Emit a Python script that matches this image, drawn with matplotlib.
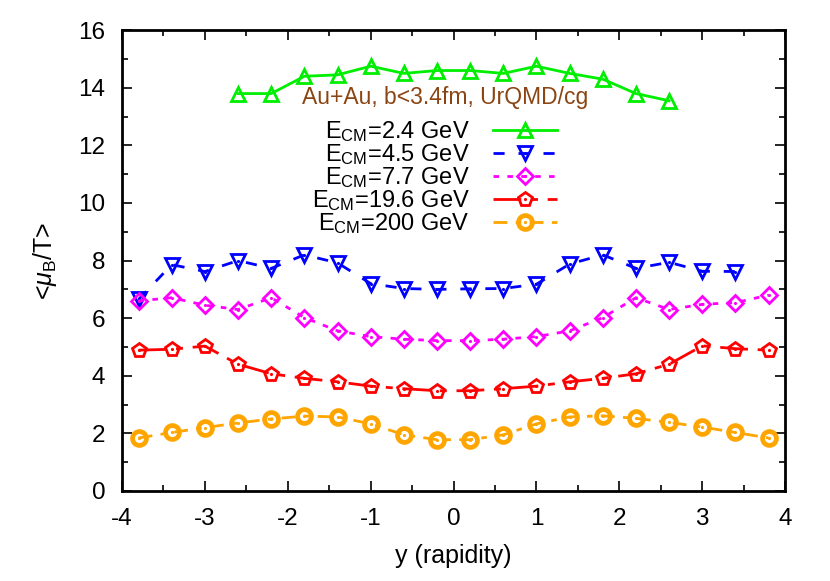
import matplotlib
matplotlib.use("Agg")
import matplotlib.pyplot as plt
from matplotlib.ticker import MultipleLocator
from matplotlib.legend_handler import HandlerTuple

plt.rcParams["font.family"] = ["Liberation Sans", "DejaVu Sans"]
plt.rcParams["mathtext.fontset"] = "custom"
plt.rcParams["mathtext.rm"] = "Liberation Sans"
plt.rcParams["mathtext.it"] = "Liberation Sans:italic"
plt.rcParams["lines.scale_dashes"] = False
plt.rcParams["axes.unicode_minus"] = False

# rapidity bins
y_all = [-3.8, -3.4, -3.0, -2.6, -2.2, -1.8, -1.4, -1.0, -0.6, -0.2,
         0.2, 0.6, 1.0, 1.4, 1.8, 2.2, 2.6, 3.0, 3.4, 3.8]
y_24 = y_all[3:17]
y_45 = y_all[:19]

mu_24 = [13.8, 13.8, 14.4, 14.45, 14.75, 14.5, 14.6, 14.6, 14.5, 14.75,
         14.5, 14.3, 13.8, 13.55]
mu_45 = [6.65, 7.86, 7.62, 8.0, 7.73, 8.2, 7.92, 7.2, 7.03, 7.0,
         7.02, 7.03, 7.18, 7.88, 8.2, 7.73, 7.94, 7.63, 7.62]
mu_77 = [6.6, 6.71, 6.45, 6.3, 6.71, 6.02, 5.56, 5.36, 5.27, 5.22,
         5.22, 5.27, 5.36, 5.56, 6.02, 6.71, 6.3, 6.48, 6.54, 6.8]
mu_196 = [4.89, 4.92, 5.03, 4.4, 4.07, 3.91, 3.79, 3.64, 3.55, 3.48,
          3.48, 3.55, 3.64, 3.79, 3.91, 4.07, 4.4, 5.04, 4.94, 4.89]
mu_200 = [1.84, 2.03, 2.2, 2.36, 2.5, 2.6, 2.57, 2.33, 1.95, 1.78,
          1.78, 1.95, 2.33, 2.57, 2.61, 2.52, 2.38, 2.22, 2.03, 1.84]

labels = [r"E$_{\rm CM}$=2.4 GeV", r"E$_{\rm CM}$=4.5 GeV", r"E$_{\rm CM}$=7.7 GeV",
          r"E$_{\rm CM}$=19.6 GeV", r"E$_{\rm CM}$=200 GeV"]

series = [
    (y_24, mu_24, "#00ee00", "^", "-", False),
    (y_45, mu_45, "#0000ff", "v", (0, (8, 10)), True),
    (y_all, mu_77, "#ff00ff", "D", (0, (4, 6)), True),
    (y_all, mu_196, "#ff0000", "p", (0, (20, 7, 5, 7)), True),
    (y_all, mu_200, "#ffa500", "o", (0, (10, 6, 4, 6)), True),
]

fig = plt.figure(figsize=(8.3, 5.81), dpi=100)
ax = fig.add_axes([0.147, 0.155, 0.799, 0.793])

handles = []
for (xs, vals, col, mk, ls, dot), lab in zip(series, labels):
    ms = 8 if mk == "D" else 10
    mew = 3.4 if mk == "o" else 2
    ln, = ax.plot(xs, vals, color=col, linestyle=ls, lw=2, marker=mk,
                  markersize=ms, markerfacecolor="none", markeredgecolor=col,
                  markeredgewidth=mew)
    h = [ln]
    if dot:
        d, = ax.plot(xs, vals, linestyle="none", marker=".", markersize=2.5,
                     color=col)
        h.append(d)
    handles.append(tuple(h))

ax.set_xlim(-4, 4)
ax.set_ylim(0, 16)
ax.xaxis.set_major_locator(MultipleLocator(1))
ax.xaxis.set_minor_locator(MultipleLocator(0.5))
ax.yaxis.set_major_locator(MultipleLocator(2))
ax.yaxis.set_minor_locator(MultipleLocator(1))
ax.tick_params(which="both", direction="in", top=True, right=True,
               labelsize=17.5, width=1.2)
ax.tick_params(which="major", length=7, pad=12)
ax.tick_params(which="minor", length=4)
for sp in ax.spines.values():
    sp.set_linewidth(2)

ax.set_xlabel("y (rapidity)", fontsize=18, labelpad=10)
ax.set_ylabel(r"<$\mu_{\rm B}$/T>", fontsize=18, labelpad=14)

ax.text(-0.1, 13.65, "Au+Au, b<3.4fm, UrQMD/cg", color="#8b4513",
        fontsize=16.5, ha="center", va="center")

leg = ax.legend(handles, labels, handler_map={tuple: HandlerTuple(ndivide=1)},
                loc="upper right", bbox_to_anchor=(0.671, 0.795),
                bbox_transform=fig.transFigure, frameon=False,
                markerfirst=False, fontsize=17, handlelength=2.7,
                labelspacing=-0.08, handletextpad=1.0, borderpad=0,
                borderaxespad=0)
for t in leg.get_texts():
    t.set_ha("right")
leg._legend_box.align = "right"

fig.savefig("out.png", dpi=100)
